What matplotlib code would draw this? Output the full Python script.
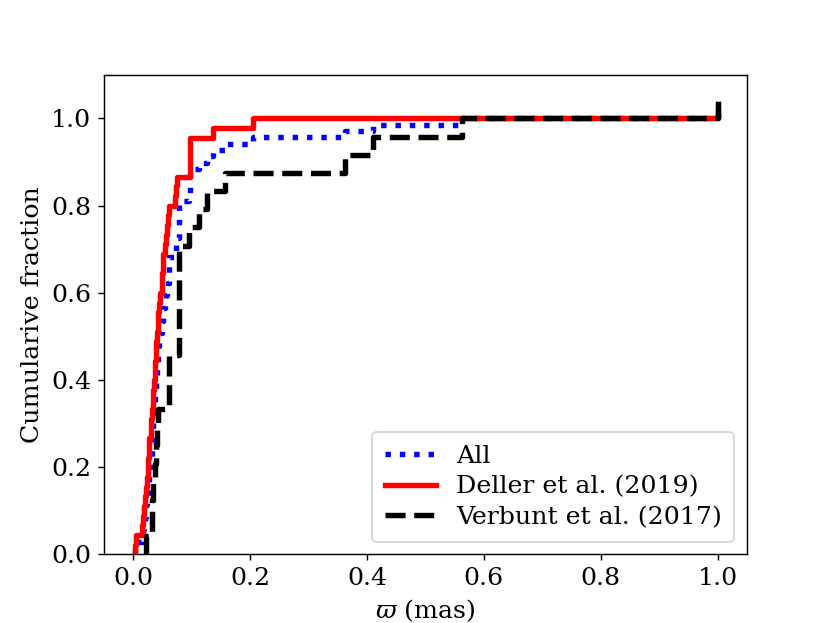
import numpy as np
import matplotlib
matplotlib.use('Agg')
import matplotlib.pyplot as plt

# parallaxes (mas)
deller_plx = [0.003, 0.006, 0.015, 0.017, 0.019, 0.021, 0.022, 0.024, 0.025,
              0.026, 0.027, 0.028, 0.030, 0.031, 0.032, 0.034, 0.035, 0.036,
              0.037, 0.038, 0.039, 0.040, 0.041, 0.042, 0.043, 0.044, 0.047,
              0.049, 0.050, 0.051, 0.052, 0.054, 0.056, 0.058, 0.060, 0.062,
              0.071, 0.073, 0.075, 0.097, 0.097, 0.097, 0.097, 0.137, 0.205]

verbunt_plx = [0.022, 0.032, 0.033, 0.035, 0.037, 0.039, 0.041, 0.043,
               0.061, 0.061, 0.061, 0.078, 0.078, 0.078, 0.078, 0.078, 0.078,
               0.096, 0.113, 0.127, 0.157, 0.362, 0.410, 0.562]

all_plx = deller_plx + verbunt_plx

x_end = 1.0

plt.rcParams['font.family'] = 'DejaVu Serif'
plt.rcParams['mathtext.fontset'] = 'dejavuserif'
plt.rcParams['font.size'] = 14


# curva cumulativa em degraus
def cumul(valores):
    v = np.sort(np.array(valores))
    n = len(v)
    x = np.concatenate([[v[0]], v, [x_end]])
    y = np.concatenate([[0], np.arange(1, n + 1) / n, [(n + 1) / n]])
    return x, y


fig, ax = plt.subplots(figsize=(830 / 130, 623 / 130), dpi=130)

x, y = cumul(all_plx)
ax.step(x, y, where='post', color='b', ls=':', lw=3, label='All')
x, y = cumul(deller_plx)
ax.step(x, y, where='post', color='r', ls='-', lw=3, label='Deller et al. (2019)')
x, y = cumul(verbunt_plx)
ax.step(x, y, where='post', color='k', ls='--', lw=3, label='Verbunt et al. (2017)')

ax.set_xlim(-0.05, 1.05)
ax.set_ylim(0, 1.1)
ax.set_xlabel(r'$\varpi$ (mas)')
ax.set_ylabel('Cumularive fraction')
ax.legend(loc='lower right', labelspacing=0.3, borderpad=0.5)

fig.savefig('out.png', dpi=130)
